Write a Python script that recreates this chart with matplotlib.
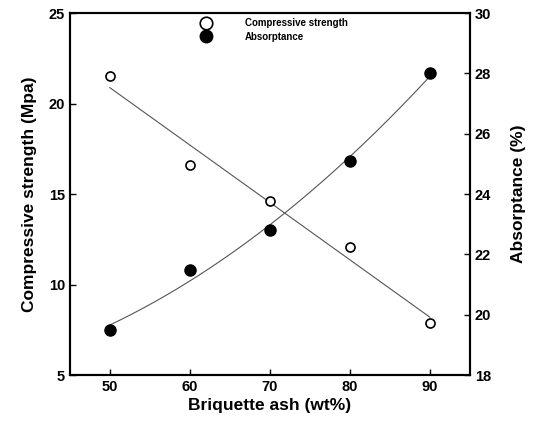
import numpy as np
import matplotlib
matplotlib.use("Agg")
import matplotlib.pyplot as plt
from matplotlib.lines import Line2D

plt.rcParams['font.family'] = ['Liberation Sans', 'DejaVu Sans']
plt.rcParams['font.weight'] = 'bold'

ash = [50, 60, 70, 80, 90]
strength = [21.5, 16.6, 14.6, 12.1, 7.9]
absorptance = [19.5, 21.5, 22.8, 25.1, 28.0]

fig = plt.figure(figsize=(5.37, 4.21), dpi=100)
ax = fig.add_axes([0.130, 0.109, 0.745, 0.860])
ax2 = ax.twinx()

xs = np.linspace(50, 90, 200)
c1 = np.polyfit(ash, strength, 1)
c2 = np.polyfit(ash, absorptance, 2)

ax.plot(xs, np.polyval(c1, xs), color='#555555', lw=0.8)
ax.plot(ash, strength, 'o', mfc='white', mec='black', mew=1.2, ms=6.5)
ax2.plot(xs, np.polyval(c2, xs), color='#555555', lw=0.8)
ax2.plot(ash, absorptance, 'o', mfc='black', mec='black', ms=8)

ax.set_xlim(45, 95)
ax.set_ylim(5, 25)
ax2.set_ylim(18, 30)
ax.set_xticks([50, 60, 70, 80, 90])
ax.set_yticks([5, 10, 15, 20, 25])
ax2.set_yticks([18, 20, 22, 24, 26, 28, 30])

for a in (ax, ax2):
    a.tick_params(direction='in', length=4, width=1, labelsize=10.5)
    for s in a.spines.values():
        s.set_linewidth(1.5)
for lab in ax.get_xticklabels() + ax.get_yticklabels() + ax2.get_yticklabels():
    lab.set_fontweight('bold')

ax.set_xlabel('Briquette ash (wt%)', fontsize=12.5, fontweight='bold', labelpad=3)
ax.set_ylabel('Compressive strength (Mpa)', fontsize=12.5, fontweight='bold', labelpad=8)
ax2.set_ylabel('Absorptance (%)', fontsize=12.5, fontweight='bold', labelpad=14)

handles = [Line2D([], [], ls='none', marker='o', mfc='white', mec='black', mew=1.2, ms=9),
           Line2D([], [], ls='none', marker='o', mfc='black', mec='black', ms=9)]
ax.legend(handles, ['Compressive strength', 'Absorptance'], loc='upper left',
          bbox_to_anchor=(0.295, 1.01), frameon=False,
          handletextpad=3.0, labelspacing=0.35, prop={'weight': 'bold', 'size': 7})

fig.savefig('out.png', dpi=100)
